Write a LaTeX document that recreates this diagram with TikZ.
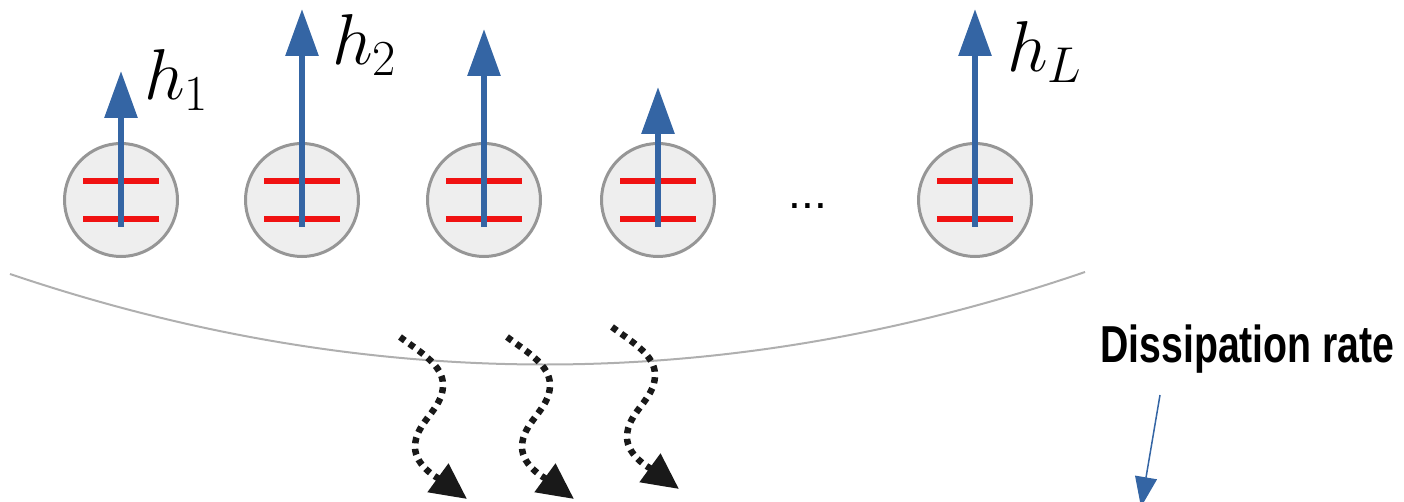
\RequirePackage{fix-cm}
\documentclass[tikz,border=0pt]{standalone}
\usepackage{fontspec}
\usepackage{graphicx}
\usetikzlibrary{arrows.meta}
\setsansfont{Liberation Sans}
\definecolor{spinblue}{RGB}{52,101,164}
\definecolor{levelred}{RGB}{240,18,18}
\definecolor{sitefill}{RGB}{238,238,238}
\definecolor{siteedge}{RGB}{150,150,150}
\definecolor{bathgray}{RGB}{175,175,175}
\definecolor{wavyblack}{RGB}{25,25,25}
\begin{document}
\begin{tikzpicture}[x=1pt,y=-1pt,
  site/.style={circle,draw=siteedge,fill=sitefill,line width=3pt,minimum size=113pt,inner sep=0pt},
  level/.style={draw=levelred,line width=6pt},
  spin/.style={draw=spinblue,line width=6pt,-{Triangle[length=47pt,width=32pt]}},
  hlabel/.style={anchor=base west,inner sep=0pt,font=\fontsize{72}{80}\selectfont},
  wavy/.style={draw=wavyblack,line width=6.5pt,dash pattern=on 6pt off 5.5pt,
    -{Triangle[length=36pt,width=34pt,fill=wavyblack]}},
  bath/.style={draw=bathgray,line width=2pt},
  thin/.style={draw=spinblue,line width=1.5pt,-{Triangle[length=30pt,width=22pt]}}]
\useasboundingbox (0,0) rectangle (1404,502);

% sites
\foreach \n/\x in {1/121,2/302,3/484,4/658,5/975}{
  \node[site] (s\n) at (\x,200) {};
  \draw[level] ([xshift=-38pt,yshift=-19pt]s\n.center) -- ([xshift=38pt,yshift=-19pt]s\n.center);
  \draw[level] ([xshift=-38pt,yshift=19pt]s\n.center) -- ([xshift=38pt,yshift=19pt]s\n.center);
}
% spins
\coordinate (t1) at (121,71);
\coordinate (t2) at (302,9);
\coordinate (t3) at (484,29);
\coordinate (t4) at (658,87);
\coordinate (t5) at (975,9);
\foreach \n in {1,...,5}{
  \draw[spin] ([yshift=-27pt]s\n.center) -- (t\n);
}
% labels
\node[hlabel] (l1) at (144,100) {$h_1$};
\node[hlabel] (l2) at (332,65) {$h_2$};
\node[hlabel] (l5) at (1007,72) {$h_L$};
\node[anchor=base,inner sep=0pt,font=\sffamily\fontsize{46}{50}\selectfont] (dots) at (808,209) {...};

% bath
\draw[bath] (10,274) .. controls (368,395) and (726,395) .. (1085,272);

% dissipation
\foreach \dx/\dy in {0/0,107/0,212/-10}{
  \begin{scope}[shift={(\dx,\dy)}]
    \draw[wavy] (400,337) .. controls (420,352) and (443,365) .. (443,385)
      .. controls (443,410) and (415,422) .. (415,447)
      .. controls (415,467) and (441,480) .. (467,499);
  \end{scope}
}

% rate label
\node[anchor=base west,inner sep=0pt] (rate) at (1100,362)
  {\scalebox{0.755}[1]{\sffamily\bfseries\fontsize{52}{56}\selectfont Dissipation rate}};
\coordinate (rs) at (1160,395);
\coordinate (re) at (1141,507);
\draw[thin] (rs) -- (re);
\end{tikzpicture}
\end{document}
